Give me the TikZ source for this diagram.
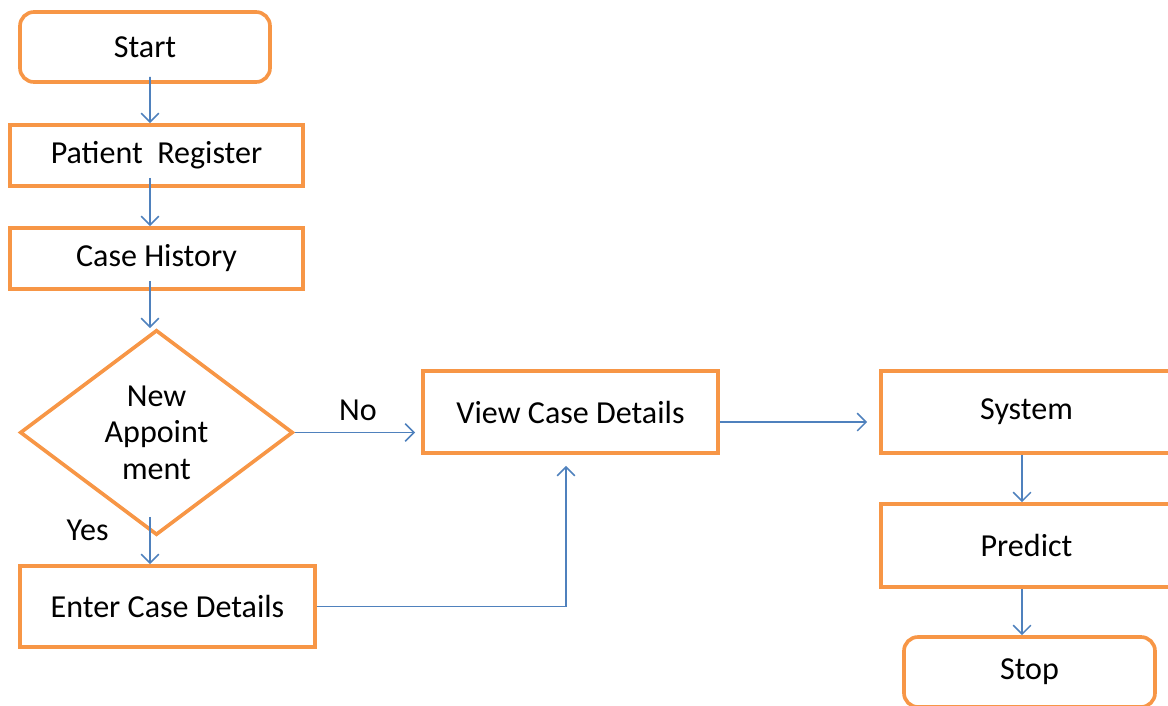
\documentclass[tikz,border=0pt]{standalone}
\usepackage{fontspec}
\setmainfont{Carlito}
\usepackage{xcolor}
\definecolor{boxorange}{HTML}{F79646}
\definecolor{linkblue}{HTML}{4F81BD}
\usetikzlibrary{shapes.geometric, arrows.meta, positioning, calc}

\begin{document}
\begin{tikzpicture}[box/.style={rectangle, draw=boxorange, line width=2.6pt, align=center, font=\fontsize{22.8}{26}\selectfont},
        term/.style={box, rounded corners=0.35cm},
        decision/.style={diamond, draw=boxorange, line width=2.6pt, align=center, inner sep=0pt, font=\fontsize{22.8}{26}\selectfont},
        link/.style={draw=linkblue, line width=1.1pt, -{Straight Barb[length=2.2mm, width=4.4mm]}},
        lbl/.style={font=\fontsize{22.8}{26}\selectfont}]

        \useasboundingbox (0,0) rectangle (29.2,-17.625);
        \clip (0,0) rectangle (29.2,-17.625);

        % Linke Spalte
        \node[term, minimum width=6.25cm, minimum height=1.75cm] (start) at (3.625,-1.175) {Start};
        \node[box, minimum width=7.325cm, minimum height=1.525cm] (register) at (3.9125,-3.8875) {Patient\ \ Register};
        \node[box, minimum width=7.325cm, minimum height=1.525cm] (history) at (3.9125,-6.4625) {Case History};
        \node[decision, minimum width=6.825cm, minimum height=5.125cm] (newapp) at (3.9125,-10.8125) {New\\Appoint\\ment};
        \node[box, minimum width=7.375cm, minimum height=2.025cm] (enter) at (4.1875,-15.1625) {Enter Case Details};

        % Mitte
        \node[box, minimum width=7.375cm, minimum height=2.05cm] (view) at (14.2625,-10.3) {View Case Details};

        % Rechte Spalte
        \node[box, minimum width=7.275cm, minimum height=2.05cm] (system) at (25.6625,-10.3) {System};
        \node[box, minimum width=7.275cm, minimum height=2.075cm] (predict) at (25.6625,-13.6375) {Predict};
        \node[term, minimum width=6.275cm, minimum height=1.75cm] (stop) at (25.7375,-16.8) {Stop};

        % Pfeile links
        \draw[link] ([xshift=0.125cm, yshift=0.175cm]start.south) -- ([xshift=-0.1625cm]register.north);
        \draw[link] ([xshift=-0.1625cm, yshift=0.25cm]register.south) -- ([xshift=-0.1625cm]history.north);
        \draw[link] ([xshift=-0.1625cm, yshift=0.25cm]history.south) -- ([xshift=-0.1625cm]newapp.north);
        \draw[link] ([xshift=-0.1625cm, yshift=0.5cm]newapp.south) -- ([xshift=-0.4375cm]enter.north)
            node[lbl, pos=0.28, left=0.9cm] (yes) {Yes};

        % Nein
        \draw[link, shorten >=0.15cm] (newapp.east) -- (newapp.east -| view.west)
            node[lbl, midway, above=0.15cm] (no) {No};

        % Zurueck nach oben
        \draw[link, shorten >=0.275cm] (enter.east) -| ([xshift=-0.1125cm]view.south);

        % Pfeile rechts
        \draw[link, shorten >=0.3cm] ([yshift=-0.25cm]view.east) -- ([yshift=-0.25cm]system.west);
        \draw[link] ([xshift=-0.1125cm]system.south) -- ([xshift=-0.1125cm]predict.north);
        \draw[link] ([xshift=-0.1125cm]predict.south) -- ([xshift=-0.1125cm]predict.south |- stop.north);

      \end{tikzpicture}
\end{document}
